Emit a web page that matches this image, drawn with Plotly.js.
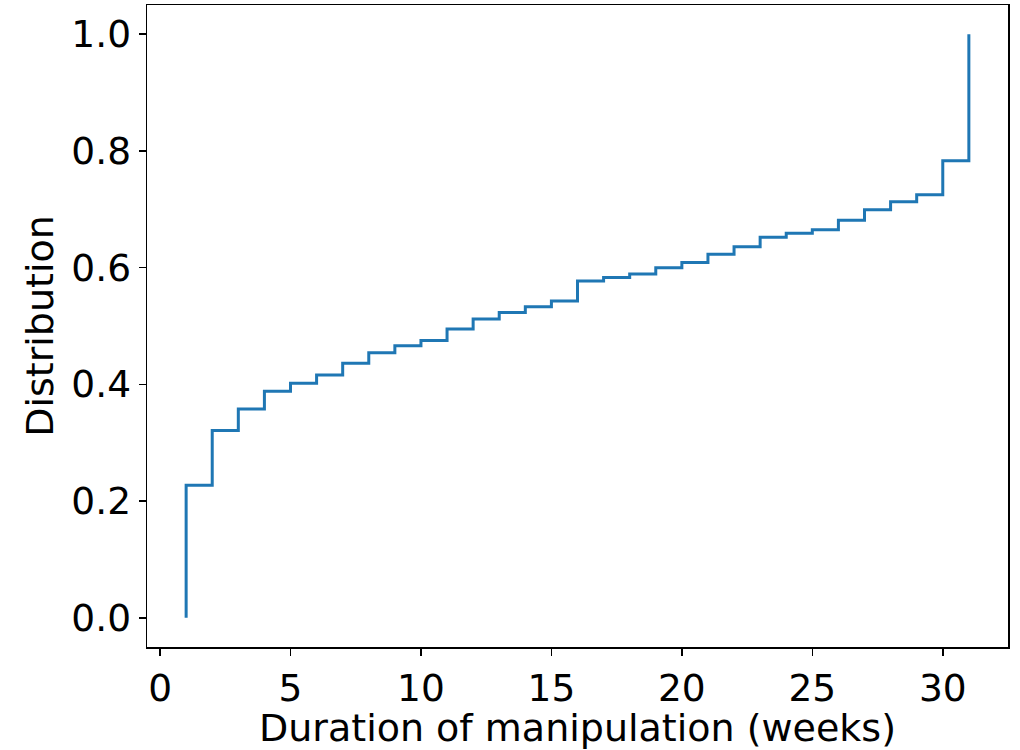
<!DOCTYPE html>
<html>
<head>
<meta charset="utf-8">
<script src="https://cdn.plot.ly/plotly-3.0.1.min.js"></script>
<style>
html,body{margin:0;padding:0;background:#fff;}
#chart{width:1020px;height:750px;}
</style>
</head>
<body>
<div id="chart"></div>
<script>
// Step (ECDF-like) data: weeks and distribution level reached at each week
const weeks = [1, 1, 2, 3, 4, 5, 6, 7, 8, 9, 10, 11, 12, 13, 14, 15, 16, 17, 18, 19, 20, 21, 22, 23, 24, 25, 26, 27, 28, 29, 30, 31];
const distribution = [0, 0.227, 0.321, 0.358, 0.388, 0.402, 0.416, 0.436, 0.454, 0.466, 0.475, 0.495, 0.512, 0.523, 0.533, 0.543, 0.577, 0.583, 0.589, 0.600, 0.609, 0.623, 0.636, 0.652, 0.659, 0.665, 0.681, 0.699, 0.713, 0.725, 0.783, 1.0];
const xTicks = [0, 5, 10, 15, 20, 25, 30];
const yTicks = [0.0, 0.2, 0.4, 0.6, 0.8, 1.0];
const yTickLabels = ["0.0", "0.2", "0.4", "0.6", "0.8", "1.0"];

const font = "DejaVu Sans, sans-serif";
const tickFs = 37.5;
const titleFs = 38;

const trace = {
  x: weeks,
  y: distribution,
  type: "scatter",
  mode: "lines",
  line: {shape: "hv", color: "#1f77b4", width: 3},
  hoverinfo: "x+y"
};

const axisCommon = {
  showgrid: false,
  zeroline: false,
  showline: true,
  linecolor: "#000",
  linewidth: 1.5,
  mirror: true,
  ticks: "outside",
  ticklen: 7,
  tickwidth: 1.5,
  tickcolor: "#000",
  automargin: false,
  tickfont: {family: font, size: tickFs, color: "#000"}
};

const layout = {
  width: 1020,
  height: 750,
  margin: {l: 147, r: 12, t: 5, b: 103},
  paper_bgcolor: "#fff",
  plot_bgcolor: "#fff",
  showlegend: false,
  xaxis: Object.assign({}, axisCommon, {
    range: [-0.5, 32.5],
    tickmode: "array",
    tickvals: xTicks,
    ticktext: xTicks.map(String),
    title: {text: "Duration of manipulation (weeks)", font: {family: font, size: titleFs, color: "#000"}, standoff: 10}
  }),
  yaxis: Object.assign({}, axisCommon, {
    range: [-0.05, 1.05],
    tickmode: "array",
    tickvals: yTicks,
    ticktext: yTickLabels,
    title: {text: "Distribution", font: {family: font, size: titleFs, color: "#000"}, standoff: 6}
  })
};

Plotly.newPlot("chart", [trace], layout, {displayModeBar: false, staticPlot: true});
</script>
</body>
</html>
